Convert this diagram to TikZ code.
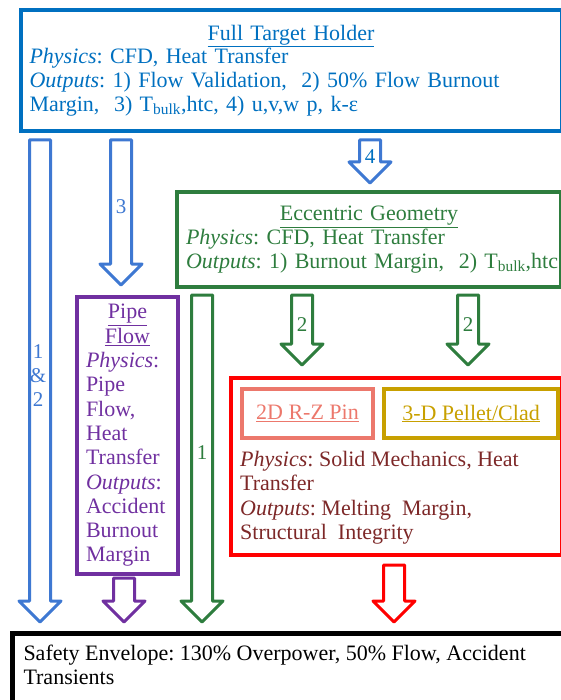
\documentclass[tikz,border=0pt]{standalone}
\usepackage{fontspec}
\setmainfont{Liberation Serif}
\usepackage{tikz}
\usetikzlibrary{calc}
\frenchspacing
\definecolor{holderblue}{RGB}{0,112,192}
\definecolor{arrowblue}{RGB}{62,120,210}
\definecolor{eccgreen}{RGB}{46,125,62}
\definecolor{pipepurple}{RGB}{112,48,160}
\definecolor{pinsalmon}{RGB}{236,120,108}
\definecolor{cladgold}{RGB}{200,160,0}
\definecolor{soliddark}{RGB}{125,40,40}
\newcommand{\bodyfont}{\fontsize{22}{23.6}\selectfont}
\newcommand{\tallfont}{\fontsize{22}{24.3}\selectfont}
\tikzstyle{boxstyle}=[rectangle, draw, anchor=north west, line width=4pt,
inner xsep=9pt, inner ysep=0pt, align=left, font=\bodyfont]
\tikzstyle{subboxstyle}=[rectangle, draw, anchor=north west, line width=4pt,
inner sep=0pt, font=\bodyfont]
\tikzstyle{bigarrow}=[line width=3pt, line join=round, fill=white]
\tikzstyle{arrowlabel}=[inner sep=0pt, align=center,
font=\fontsize{21}{24}\selectfont]
% hollow block arrow: style, top coordinate, tip coordinate
\newcommand{\hollowarrow}[3]{%
\draw[bigarrow,#1] let \p1=(#2), \p2=(#3) in
	(\x1-10.5pt,\y1) -- (\x1+10.5pt,\y1) -- (\x1+10.5pt,\y2+21pt)
	-- (\x1+21pt,\y2+21pt) -- (\x2,\y2) -- (\x1-21pt,\y2+21pt)
	-- (\x1-10.5pt,\y2+21pt) -- cycle;}

\begin{document}
\begin{tikzpicture}[x=1pt,y=-1pt]
\useasboundingbox (0,0) rectangle (561,700);

% Full target holder
\path (18.5,8) node[boxstyle, draw=holderblue, text=holderblue,
	minimum width=541pt, minimum height=121pt, text width=523pt] (holder)
	{\makebox[\linewidth]{\underline{Full Target Holder}}\\
	\textit{Physics}: CFD, Heat Transfer\\
	\textit{Outputs}: 1) Flow Validation,\ \ 2) 50\% Flow Burnout\\
	Margin,\ \ 3) T\textsubscript{bulk},htc, 4) u,v,w p, k-ε};

% Eccentric geometry
\path (175,190) node[boxstyle, draw=eccgreen, text=eccgreen, inner xsep=9pt,
	minimum width=384pt, minimum height=95pt, text width=366pt] (ecc)
	{\makebox[\linewidth]{\underline{Eccentric Geometry}}\\
	\textit{Physics}: CFD, Heat Transfer\\
	\mbox{\textit{Outputs}: 1) Burnout Margin,\ \ 2) T\textsubscript{bulk},htc}};

% Pipe flow
\path (75,295) node[boxstyle, draw=pipepurple, text=pipepurple, font=\tallfont,
	minimum width=101pt, minimum height=277pt, text width=83pt] (pipe)
	{\makebox[\linewidth]{\underline{Pipe}}\\
	\makebox[\linewidth]{\underline{Flow}}\\
	\textit{Physics}:\\ Pipe\\ Flow,\\ Heat\\ Transfer\\
	\textit{Outputs}:\\ Accident\\ Burnout\\ Margin};

% Solid mechanics
\path (229,376) node[subboxstyle, draw=red, minimum width=331pt,
	minimum height=177pt] (solid) {};
\path (240,387) node[subboxstyle, draw=pinsalmon, text=pinsalmon,
	minimum width=131pt, minimum height=49pt] (rzpin)
	{\underline{2D R-Z Pin}};
\path (382,387) node[subboxstyle, draw=cladgold, text=cladgold,
	minimum width=174pt, minimum height=49pt] (pellet)
	{\underline{3-D Pellet/Clad}};
\path (240,451) node[anchor=north west, inner sep=0pt, align=left,
	text=soliddark, font=\fontsize{22}{24.5}\selectfont] (solidtext)
	{\textit{Physics}: Solid Mechanics, Heat\\ Transfer\\
	\textit{Outputs}: Melting\ \ Margin,\\ Structural\ \ Integrity};

% Safety envelope
\path (10,631) node[boxstyle, draw=black, line width=5pt, inner xsep=11pt,
	inner ysep=12pt] (safety)
	{\parbox[t][140pt][t]{570pt}{Safety Envelope: 130\% Overpower, 50\% Flow, Accident\\
	Transients}};

% Arrow ends
\coordinate (a12top) at (40,140);
\coordinate (a12tip) at (40,622);
\coordinate (a3top) at (121,140);
\coordinate (a3tip) at (121,285);
\coordinate (a4top) at (370,140);
\coordinate (a4tip) at (370,183);
\coordinate (a1top) at (202,295);
\coordinate (a1tip) at (202,622);
\coordinate (a2ltop) at (302,295);
\coordinate (a2ltip) at (302,365);
\coordinate (a2rtop) at (468,295);
\coordinate (a2rtip) at (468,365);
\coordinate (apipetop) at (124,578);
\coordinate (apipetip) at (124,622);
\coordinate (asolidtop) at (394,565);
\coordinate (asolidtip) at (394,622);

% Block arrows
\hollowarrow{draw=arrowblue}{a12top}{a12tip}
\hollowarrow{draw=arrowblue}{a3top}{a3tip}
\hollowarrow{draw=arrowblue}{a4top}{a4tip}
\hollowarrow{draw=eccgreen}{a1top}{a1tip}
\hollowarrow{draw=eccgreen}{a2ltop}{a2ltip}
\hollowarrow{draw=eccgreen}{a2rtop}{a2rtip}
\hollowarrow{draw=pipepurple}{apipetop}{apipetip}
\hollowarrow{draw=red}{asolidtop}{asolidtip}

% Arrow labels
\node[arrowlabel, text=arrowblue] (l12) at (38,376) {1\\\&\\2};
\node[arrowlabel, text=arrowblue] (l3) at (121,207) {3};
\node[arrowlabel, text=holderblue] (l4) at (370,157) {4};
\node[arrowlabel, text=eccgreen] (l1) at (202,453) {1};
\node[arrowlabel, text=eccgreen] (l2l) at (302,325) {2};
\node[arrowlabel, text=eccgreen] (l2r) at (468,325) {2};

\end{tikzpicture}
\end{document}
